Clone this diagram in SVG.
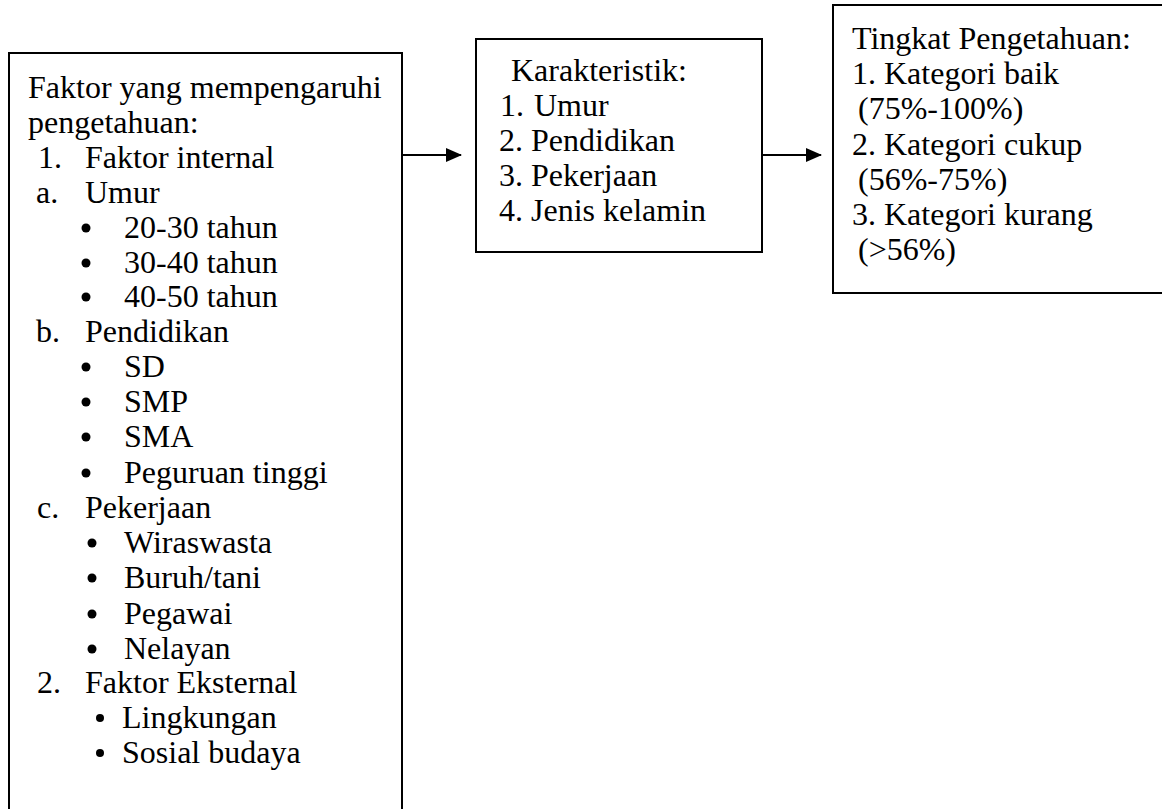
<svg xmlns="http://www.w3.org/2000/svg" width="1162" height="809" viewBox="0 0 1162 809">
<style>
.box{fill:#fff;stroke:#000;stroke-width:2}
text{font-family:"Liberation Serif","Times New Roman",serif;font-size:32px;fill:#000}
.bul{fill:#000}
.con{stroke:#000;stroke-width:2;fill:none}
</style>
<defs>
<marker id="ah" markerWidth="8" markerHeight="7" refX="7.5" refY="3.5" orient="auto" markerUnits="strokeWidth">
<path d="M0,0 L8,3.5 L0,7 Z" fill="#000"/>
</marker>
</defs>
<rect width="1162" height="809" fill="#fff"/>
<g id="connectors">
<line class="con" x1="403" y1="155" x2="461" y2="155" marker-end="url(#ah)"/>
<line class="con" x1="763" y1="155" x2="821" y2="155" marker-end="url(#ah)"/>
</g>
<g id="faktor">
<rect class="box" x="9" y="53" width="393" height="780"/>
<text x="28" y="98">Faktor yang mempengaruhi</text>
<text x="28" y="133">pengetahuan:</text>
<text x="38" y="168">1.</text><text x="85" y="168">Faktor internal</text>
<text x="36" y="203">a.</text><text x="85" y="203">Umur</text>
<circle class="bul" cx="86" cy="228" r="4.5"/><text x="124" y="238">20-30 tahun</text>
<circle class="bul" cx="86" cy="263" r="4.5"/><text x="124" y="273">30-40 tahun</text>
<circle class="bul" cx="86" cy="297" r="4.5"/><text x="124" y="307">40-50 tahun</text>
<text x="36" y="342">b.</text><text x="85" y="342">Pendidikan</text>
<circle class="bul" cx="86" cy="367" r="4.5"/><text x="124" y="377">SD</text>
<circle class="bul" cx="86" cy="402" r="4.5"/><text x="124" y="412">SMP</text>
<circle class="bul" cx="86" cy="437" r="4.5"/><text x="124" y="447">SMA</text>
<circle class="bul" cx="86" cy="473" r="4.5"/><text x="124" y="483">Peguruan tinggi</text>
<text x="37" y="518">c.</text><text x="85" y="518">Pekerjaan</text>
<circle class="bul" cx="92" cy="543" r="4.5"/><text x="124" y="553">Wiraswasta</text>
<circle class="bul" cx="92" cy="578" r="4.5"/><text x="124" y="588">Buruh/tani</text>
<circle class="bul" cx="92" cy="614" r="4.5"/><text x="124" y="624">Pegawai</text>
<circle class="bul" cx="92" cy="649" r="4.5"/><text x="124" y="659">Nelayan</text>
<text x="37" y="693">2.</text><text x="85" y="693">Faktor Eksternal</text>
<circle class="bul" cx="100" cy="718" r="4"/><text x="122" y="728">Lingkungan</text>
<circle class="bul" cx="100" cy="753" r="4"/><text x="122" y="763">Sosial budaya</text>
</g>
<g id="karakteristik">
<rect class="box" x="476" y="39" width="286" height="213"/>
<text x="511" y="81">Karakteristik:</text>
<text x="500" y="116">1.</text><text x="534" y="116">Umur</text>
<text x="499" y="151">2. Pendidikan</text>
<text x="499" y="186">3. Pekerjaan</text>
<text x="499" y="221">4. Jenis kelamin</text>
</g>
<g id="tingkat">
<rect class="box" x="833" y="5" width="340" height="288"/>
<text x="852" y="49">Tingkat Pengetahuan:</text>
<text x="852" y="84">1. Kategori baik</text>
<text x="858" y="119">(75%-100%)</text>
<text x="852" y="155">2. Kategori cukup</text>
<text x="858" y="190">(56%-75%)</text>
<text x="852" y="225">3. Kategori kurang</text>
<text x="858" y="260">(&gt;56%)</text>
</g>
</svg>
